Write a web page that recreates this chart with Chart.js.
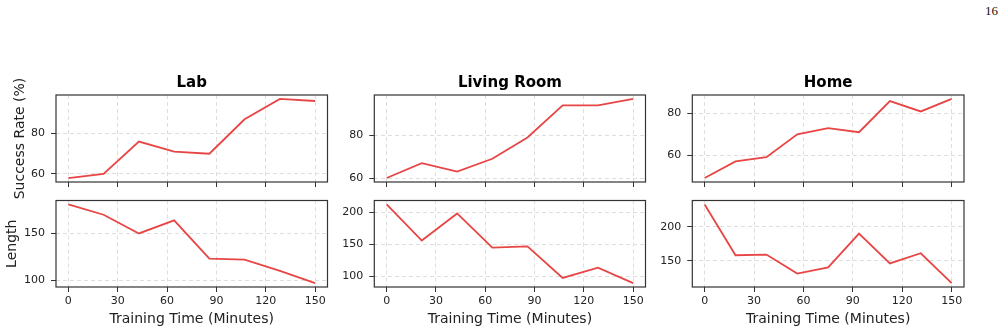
<!DOCTYPE html>
<html lang="en">
  <head>
    <meta charset="UTF-8" />
    <title>Training Time</title>
    <script src="https://cdn.jsdelivr.net/npm/chart.js"></script>
    <style>
      body { margin: 0; background: #fff; }
      #wrap { position: relative; width: 1005px; height: 334px; }
      #wrap canvas { position: absolute; left: 0; top: 0; }
      #page {
        position: absolute; right: 7px; top: 3px;
        font: 13px 'Liberation Serif', serif; color: #111;
      }
    </style>
  </head>

  <body>
    <div id="wrap">
      <div id="page">16</div>
    </div>

    <script>
      // x values (minutes) for each environment
      const labTime = [0, 21.4, 42.9, 64.3, 85.7, 107.1, 128.6, 150];
      const livingTime = [0, 21.4, 42.9, 64.3, 85.7, 107.1, 128.6, 150];
      const homeTime = [0, 18.75, 37.5, 56.25, 75, 93.75, 112.5, 131.25, 150];

      // success rate (%)
      const labSuccess = [58, 60, 76, 71, 70, 87, 97, 96];
      const livingSuccess = [60, 67, 63, 69, 79, 94, 94, 97];
      const homeSuccess = [49, 57, 59, 70, 73, 71, 86, 81, 87];

      // episode length
      const labLength = [181, 170, 150, 164, 123, 122, 110, 97];
      const livingLength = [212, 156, 198, 145, 147, 98, 114, 90];
      const homeLength = [233, 158, 159, 131, 140, 190, 146, 161, 117];

      // tick labels
      const timeTicks = [0, 30, 60, 90, 120, 150];
      const labSuccessTicks = [60, 80];
      const livingSuccessTicks = [60, 80];
      const homeSuccessTicks = [60, 80];
      const labLengthTicks = [100, 150];
      const livingLengthTicks = [100, 150, 200];
      const homeLengthTicks = [150, 200];

      const titles = ['Lab', 'Living Room', 'Home'];

      const W = 1005, H = 334;
      const colLeft = [56, 374.3, 692.3];
      const colRight = [327.5, 645.5, 964];
      const rowTop = [95, 200.5];
      const rowBottom = [182, 287];

      const lineColor = '#e84545';
      const tickFont = { family: "'DejaVu Sans', sans-serif", size: 11 };
      const labelFont = { family: "'DejaVu Sans', sans-serif", size: 14 };

      // frame + title, drawn over the plot
      const framePlugin = {
        id: 'frame',
        afterDatasetsDraw(chart, args, opts) {
          const { ctx, chartArea: a } = chart;
          ctx.save();
          ctx.strokeStyle = '#333';
          ctx.lineWidth = 1.2;
          ctx.strokeRect(a.left, a.top, a.right - a.left, a.bottom - a.top);
          if (opts.title) {
            ctx.fillStyle = '#000';
            ctx.font = "bold 15px 'DejaVu Sans', sans-serif";
            ctx.textAlign = 'center';
            ctx.textBaseline = 'alphabetic';
            ctx.fillText(opts.title, (a.left + a.right) / 2, a.top - 7.7);
          }
          ctx.restore();
        },
      };

      function padRange(values) {
        const lo = Math.min(...values), hi = Math.max(...values);
        const m = (hi - lo) * 0.05;
        return [lo - m, hi + m];
      }

      function makeChart(col, row, xs, ys, yTicks, yLabel, yLabelPad) {
        const canvas = document.createElement('canvas');
        canvas.width = W;
        canvas.height = H;
        document.getElementById('wrap').appendChild(canvas);

        const padLeft = col === 0 ? 0 : colLeft[col] - 50;
        const yWidth = colLeft[col] - padLeft;
        const xHeight = row === 1 ? 45 : 10;
        const [yMin, yMax] = padRange(ys);

        return new Chart(canvas, {
          type: 'line',
          data: {
            datasets: [
              {
                data: xs.map((x, i) => ({ x: x, y: ys[i] })),
                borderColor: lineColor,
                borderWidth: 1.8,
                pointRadius: 0,
                tension: 0,
              },
            ],
          },
          options: {
            responsive: false,
            animation: false,
            events: [],
            layout: {
              padding: {
                left: padLeft,
                right: W - colRight[col],
                top: rowTop[row],
                bottom: H - rowBottom[row] - xHeight,
              },
            },
            plugins: {
              legend: { display: false },
              tooltip: { enabled: false },
              frame: { title: row === 0 ? titles[col] : null },
            },
            scales: {
              x: {
                type: 'linear',
                min: -7.5,
                max: 157.5,
                afterBuildTicks: (s) => { s.ticks = timeTicks.map((v) => ({ value: v })); },
                afterFit: (s) => { s.height = xHeight; },
                grid: {
                  color: '#dedede',
                  tickColor: '#333',
                  tickLength: 5,
                  tickBorderDash: [],
                },
                border: { display: false, dash: [4, 3] },
                ticks: {
                  font: tickFont,
                  color: '#222',
                  padding: 3,
                  maxRotation: 0,
                  callback: (v) => (row === 1 ? String(v) : ''),
                },
                title: {
                  display: row === 1,
                  text: 'Training Time (Minutes)',
                  font: labelFont,
                  color: '#222',
                  padding: { top: 0, bottom: 4 },
                },
              },
              y: {
                type: 'linear',
                min: yMin,
                max: yMax,
                afterBuildTicks: (s) => { s.ticks = yTicks.map((v) => ({ value: v })); },
                afterFit: (s) => { s.width = yWidth; },
                grid: {
                  color: '#dedede',
                  tickColor: '#333',
                  tickLength: 5,
                  tickBorderDash: [],
                },
                border: { display: false, dash: [4, 3] },
                ticks: { font: tickFont, color: '#222', padding: 6 },
                title: {
                  display: !!yLabel,
                  text: yLabel || '',
                  font: labelFont,
                  color: '#222',
                  padding: { top: yLabelPad || 0, bottom: 0 },
                },
              },
            },
          },
          plugins: [framePlugin],
        });
      }

      makeChart(0, 0, labTime, labSuccess, labSuccessTicks, 'Success Rate (%)', 12.4);
      makeChart(1, 0, livingTime, livingSuccess, livingSuccessTicks);
      makeChart(2, 0, homeTime, homeSuccess, homeSuccessTicks);
      makeChart(0, 1, labTime, labLength, labLengthTicks, 'Length', 4.1);
      makeChart(1, 1, livingTime, livingLength, livingLengthTicks);
      makeChart(2, 1, homeTime, homeLength, homeLengthTicks);
    </script>
  </body>
</html>
